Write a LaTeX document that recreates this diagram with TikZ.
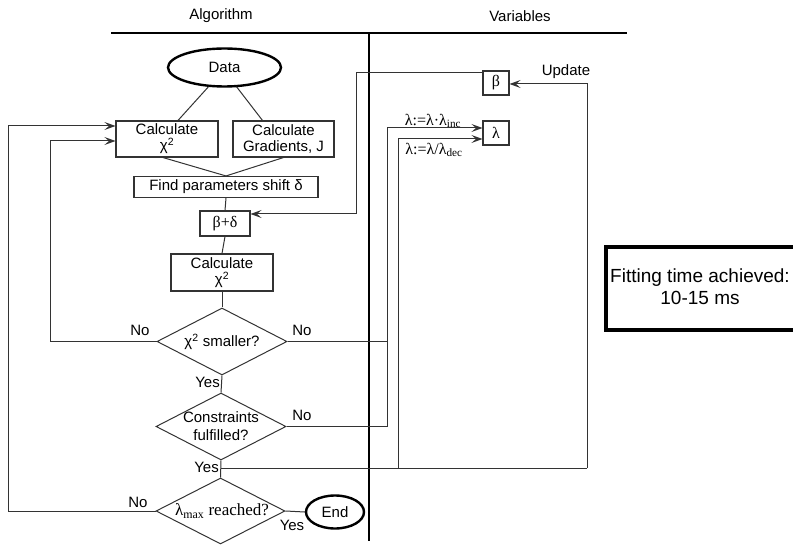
\documentclass[tikz,border=0pt]{standalone}
\usepackage{fontspec}
\setmainfont{Liberation Sans}
\newfontfamily\serifgr{Liberation Serif}
\usetikzlibrary{shapes.geometric,arrows.meta,calc}

\tikzset{
  base/.style={font=\fontsize{15bp}{17bp}\selectfont, inner sep=0pt},
  sbase/.style={font=\serifgr\fontsize{16bp}{18bp}\selectfont, inner sep=0pt},
  box/.style={base, draw=ln, line width=1.1bp, rectangle, align=center},
  oval/.style={base, draw=black, line width=2.4bp, ellipse},
  dia/.style={draw=ln, line width=1bp, diamond, inner sep=0pt},
  lbl/.style={base},
  conn/.style={draw=ln, line width=1bp},
  arr/.style={conn, -{Stealth[length=11bp, width=8bp, inset=4.5bp]}},
}
\definecolor{ln}{HTML}{333333}

\begin{document}
\begin{tikzpicture}[x=1bp, y=-1bp]
\useasboundingbox (0,0) rectangle (793,545);
\clip (0,0) rectangle (793,545);

% column headers and dividers
\node[lbl] (halg) at (221,16) {Algorithm};
\node[lbl] (hvar) at (520,16) {Variables};
\coordinate (rl) at (111,33);
\coordinate (rr) at (627,33);
\coordinate (vt) at (369,33);
\coordinate (vb) at (369,541);
\draw[line width=1.1bp] (rl) -- (rr);
\draw[line width=1.1bp] (vt) -- (vb);

% algorithm nodes
\node[oval, minimum width=113bp, minimum height=38bp] (data) at (224.5,67.5) {Data};
\node[box, minimum width=102bp, minimum height=36bp] (calc1) at (167,139) {Calculate\\[-1bp]χ\textsuperscript{2}};
\node[box, minimum width=101bp, minimum height=36bp] (calc2) at (283.5,139) {Calculate\\[-1bp]Gradients, J};
\node[box, minimum width=184bp, minimum height=21bp] (find) at (226,187) {Find parameters shift δ};
\node[box, minimum width=50bp, minimum height=25bp, font=\serifgr\fontsize{16bp}{18bp}\selectfont] (bd) at (225,223.5) {β+δ};
\node[box, minimum width=102bp, minimum height=37bp] (calc3) at (222,272.5) {Calculate\\[-1bp]χ\textsuperscript{2}};

\node[dia, minimum width=130bp, minimum height=67bp] (d1) at (222,341.5) {};
\node[lbl] (t1) at (d1) {χ\textsuperscript{2} smaller?};
\node[dia, minimum width=130bp, minimum height=67bp] (d2) at (221,426.5) {};
\node[lbl, align=center] (t2) at (d2) {Constraints\\[1bp]fulfilled?};
\node[dia, minimum width=129bp, minimum height=66bp] (d3) at (220.5,511) {};
\node[sbase, font=\serifgr\fontsize{17bp}{19bp}\selectfont] (t3) at (222,511) {λ\textsubscript{max} reached?};
\node[oval, minimum width=58bp, minimum height=33bp] (end) at (335,512) {End};

% variable boxes
\node[box, minimum width=26bp, minimum height=24bp, font=\serifgr\fontsize{16bp}{18bp}\selectfont] (beta) at (496,83) {β};
\node[box, minimum width=26bp, minimum height=24bp, font=\serifgr\fontsize{16bp}{18bp}\selectfont] (lam) at (496,133) {λ};

% result box
\node[base, draw=black, line width=4bp, minimum width=216bp, minimum height=83bp,
      anchor=north west] (fit) at (604,245) {};
\node[lbl, align=center, font=\fontsize{19bp}{22bp}\selectfont] (fitt) at (700,286.5) {Fitting time achieved:\\10-15 ms};

% data flow in the algorithm column
\draw[conn] ($(data.south)+(-16,-1)$) -- ($(calc1.north)+(11,0)$);
\draw[conn] ($(data.south)+(12,-1)$) -- ($(calc2.north)+(-21,0)$);
\draw[conn] ($(calc1.south)+(-4,0)$) -- (find.north);
\draw[conn] (calc2.south) -- (find.north);
\draw[conn] (find.south) -- (bd.north);
\draw[conn] (bd.south) -- (calc3.north);
\draw[conn] (calc3.south) -- (d1.north);
\draw[conn] (d1.south) -- (d2.north);
\draw[conn] (d2.south) -- (d3.north);
\draw[conn] (d3.east) -- (end.west);

\node[lbl, anchor=east] (y1) at (220,382) {Yes};
\node[lbl, anchor=east] (y2) at (219,467) {Yes};
\node[lbl] (y3) at (292,525) {Yes};
\node[lbl] (n1) at (140,330) {No};
\node[lbl] (n2) at (302,330) {No};
\node[lbl] (n3) at (302,415) {No};
\node[lbl] (n4) at (138,502) {No};

% feedback loops back to the first chi-square step
\coordinate (l1) at (50,341.5);
\draw[arr] (d1.west) -- (l1) |- ($(calc1.west)+(0,2)$);
\coordinate (l2) at (8,511);
\draw[arr] (d3.west) -- (l2) |- ($(calc1.west)+(0,-13)$);

% lambda increase when chi-square or constraints fail
\coordinate (ja) at (387,341.5);
\coordinate (jb) at (387,426.5);
\draw[conn] (d1.east) -- (ja);
\draw[arr] (d2.east) -- (jb) |- ($(lam.west)+(0,-5)$);
\node[sbase] (linc) at (433,121) {λ:=λ·λ\textsubscript{inc}};

% success: decrease lambda and update beta
\coordinate (ys) at (221,468);
\coordinate (yd) at (398,468);
\coordinate (yu) at (587,468);
\draw[conn] (ys) -- (yu);
\draw[arr] (yd) |- ($(lam.west)+(0,6)$);
\node[sbase] (ldec) at (434,150) {λ:=λ/λ\textsubscript{dec}};
\draw[arr] (yu) |- ($(beta.east)+(0,1)$);
\node[lbl] (upd) at (566,72) {Update};

% updated beta fed into the parameter step
\coordinate (bl) at (356,73);
\draw[arr] ($(beta.west)+(0,-10)$) -- (bl) |- ($(bd.east)+(0,-9.5)$);
\end{tikzpicture}
\end{document}
